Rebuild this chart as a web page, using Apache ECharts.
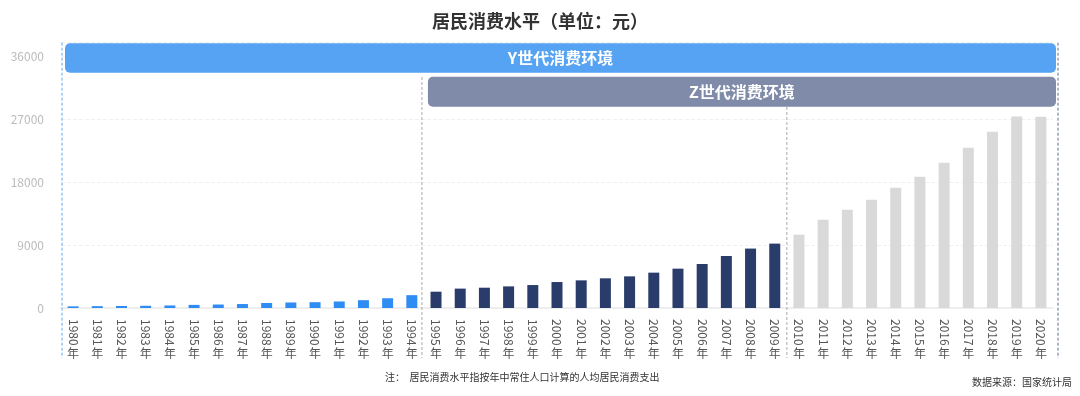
<!DOCTYPE html>
<html>
<head>
<meta charset="utf-8">
<script src="https://cdn.jsdelivr.net/npm/echarts@6/dist/echarts.min.js"></script>
<style>
  html, body { margin: 0; padding: 0; background: #fff; }
  #main { width: 1080px; height: 396px; }
</style>
</head>
<body>
<div id="main"></div>
<script>
// 年份
var years = [
  '1980', '1981', '1982', '1983', '1984', '1985', '1986', '1987', '1988', '1989',
  '1990', '1991', '1992', '1993', '1994', '1995', '1996', '1997', '1998', '1999',
  '2000', '2001', '2002', '2003', '2004', '2005', '2006', '2007', '2008', '2009',
  '2010', '2011', '2012', '2013', '2014', '2015', '2016', '2017', '2018', '2019',
  '2020'
];
// 居民消费水平（元）
var spending = [
  238, 264, 288, 316, 361, 446, 497, 565, 714, 788,
  833, 932, 1116, 1393, 1833, 2330, 2770, 2900, 3090, 3280,
  3710, 3950, 4240, 4520, 5050, 5620, 6290, 7430, 8490, 9200,
  10470, 12600, 14040, 15470, 17190, 18760, 20760, 22900, 25190, 27370,
  27330
];
// 世代分段：起始年份下标
var eraNames = ['Y世代消费环境', 'Z世代消费环境'];
var eraStart = [0, 15];
var futureStart = 30;
var yTicks = [0, 9000, 18000, 27000, 36000];

var barColors = ['#2F8CF2', '#2A3D6A', '#D9D9D9'];
var bannerColors = ['#55A3F2', '#7F8BA8'];
var font = '"Noto Sans CJK SC", "Noto Sans", sans-serif';

var dom = document.getElementById('main');
var myChart = echarts.init(dom, null, { renderer: 'canvas' });

function colorFor(i) {
  if (i >= futureStart) return barColors[2];
  if (i >= eraStart[1]) return barColors[1];
  return barColors[0];
}

// banners + dashed dividers, placed through the axes
function drawOverlay(params, api) {
  var band = api.size([1, 0])[0];
  var base = api.coord([0, 0])[1];
  var edge = function (i) { return api.coord([i, 0])[0] - band / 2; };
  var yAt = function (v) { return api.coord([0, v])[1]; };
  var n = years.length;
  var kids = [];
  var line = function (x, y1, y2, color) {
    kids.push({
      type: 'line',
      shape: { x1: x, y1: y1, x2: x, y2: y2 },
      style: { stroke: color, lineWidth: 1, lineDash: [3, 2] }
    });
  };
  line(edge(0) + 1, yAt(37900), base + 50, '#5FA8F5');
  line(edge(eraStart[1]) - 2, yAt(33000), base + 50, '#AAAAAA');
  line(edge(futureStart), yAt(33000), base + 50, '#AAAAAA');
  line(edge(n) + 5, yAt(37900), base + 50, '#5A6C94');

  var tops = [37830, 33040];
  var bottoms = [33610, 28760];
  for (var k = 0; k < eraNames.length; k++) {
    var x1 = edge(eraStart[k]) + 4;
    var x2 = edge(n) + 3;
    var y1 = yAt(tops[k]);
    var y2 = yAt(bottoms[k]);
    kids.push({
      type: 'rect',
      shape: { x: x1, y: y1, width: x2 - x1, height: y2 - y1, r: 5 },
      style: { fill: bannerColors[k] }
    });
    kids.push({
      type: 'text',
      style: {
        text: eraNames[k], x: (x1 + x2) / 2, y: (y1 + y2) / 2,
        fill: '#fff', fontSize: 16, fontWeight: 'bold', fontFamily: font,
        align: 'center', verticalAlign: 'middle'
      }
    });
  }
  return { type: 'group', children: kids };
}

var option = {
  title: {
    text: '居民消费水平（单位：元）',
    left: 'center',
    top: 7,
    textStyle: { fontSize: 18, fontWeight: 'bold', color: '#333', fontFamily: font }
  },
  grid: { left: 61, right: 27, top: 42, bottom: 88 },
  xAxis: [
    {
      type: 'category',
      data: years,
      axisLine: { lineStyle: { color: '#EEEEEE', width: 2 } },
      axisTick: { show: false },
      axisLabel: { interval: 0, rotate: -90, margin: 11, fontSize: 12, color: '#555', fontFamily: font }
    },
    {
      type: 'category',
      data: years,
      position: 'bottom',
      axisLine: { show: false },
      axisTick: { show: false },
      axisLabel: {
        interval: 0, margin: 39, fontSize: 12, color: '#555', fontFamily: font,
        formatter: function () { return '年'; }
      }
    }
  ],
  yAxis: {
    type: 'value',
    min: yTicks[0],
    max: 38000,
    interval: yTicks[1] - yTicks[0],
    axisLine: { show: false },
    axisTick: { show: false },
    axisLabel: {
      showMaxLabel: false, margin: 17, fontSize: 12, color: '#BBBBBB', fontFamily: font,
      formatter: function (v) { return String(v); }
    },
    splitLine: { lineStyle: { color: '#F0F0F0', type: 'dashed' } }
  },
  graphic: [
    {
      type: 'text', left: 385, top: 372,
      style: { text: '注：  居民消费水平指按年中常住人口计算的人均居民消费支出', fontSize: 10, fill: '#333', fontFamily: font }
    },
    {
      type: 'text', right: 8, top: 377,
      style: { text: '数据来源：国家统计局', fontSize: 10, fill: '#333', fontFamily: font }
    }
  ],
  series: [
    {
      type: 'bar',
      barWidth: 11,
      data: spending.map(function (v, i) {
        return { value: v, itemStyle: { color: colorFor(i) } };
      })
    },
    {
      type: 'custom',
      silent: true,
      clip: false,
      z: 5,
      renderItem: drawOverlay,
      data: [[0, 0]]
    }
  ]
};

if (option && typeof option === 'object') {
  myChart.setOption(option);
}

window.addEventListener('resize', myChart.resize);
</script>
</body>
</html>
